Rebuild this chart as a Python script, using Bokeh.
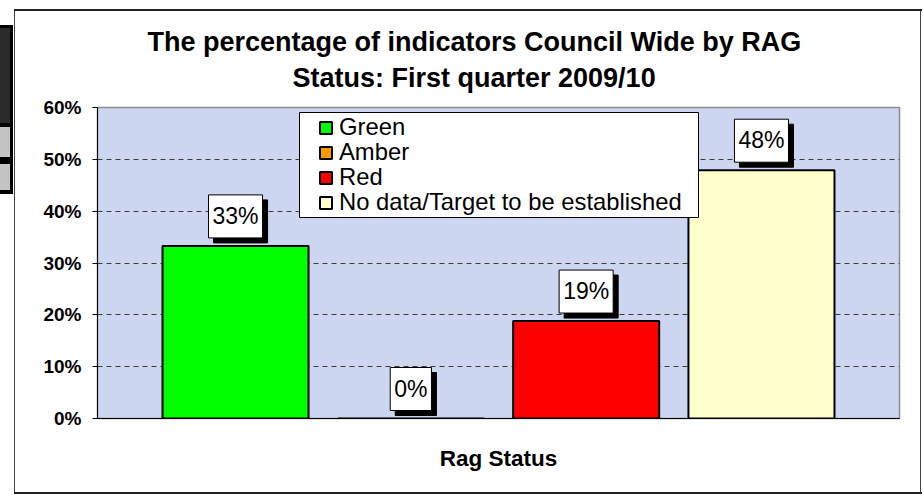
from bokeh.plotting import figure
from bokeh.models import (ColumnDataSource, FactorRange, Range1d, Label, Legend, Title,
                          LegendItem, BoxAnnotation, FixedTicker, PrintfTickFormatter)
from bokeh.embed import file_html
from bokeh.resources import INLINE

# ---- data ----
title_lines = ["The percentage of indicators Council Wide by RAG",
               "Status:  First quarter 2009/10"]
statuses = ["Green", "Amber", "Red", "No data/Target to be established"]
percentages = [33.3, 0.0, 18.8, 47.9]
label_texts = ["33%", "0%", "19%", "48%"]
bar_colors = ["#00ff00", "#ff9900", "#ff0000", "#ffffcc"]
y_ticks = [0, 10, 20, 30, 40, 50, 60]
grid_ticks = [10, 20, 30, 40, 50]
x_axis_title = "Rag Status"

FONT = "Liberation Sans"

src = ColumnDataSource(dict(status=statuses, pct=percentages, label=label_texts,
                            color=bar_colors))

p = figure(width=923, height=495, title=None,
           x_range=FactorRange(factors=statuses, range_padding=0.1437, range_padding_units="percent"),
           y_range=Range1d(0, 60),
           output_backend="svg", toolbar_location=None,
           min_border_left=97, min_border_right=24, min_border_top=107, min_border_bottom=77)

# outer chart border and the cropped side panel, drawn as the canvas's page background
bg_layers = [
    "linear-gradient(#c4c4c4,#c4c4c4) 0px 127px / 10px 30px no-repeat",
    "linear-gradient(#c4c4c4,#c4c4c4) 0px 164px / 10px 26px no-repeat",
    "linear-gradient(#2b2b2b,#2b2b2b) 0px 28px / 10px 95px no-repeat",
    "linear-gradient(#000,#000) 0px 25px / 13px 169px no-repeat",
    "linear-gradient(#222,#222) 14px 9px / 908px 2px no-repeat",
    "linear-gradient(#222,#222) 14px 492px / 908px 2px no-repeat",
    "linear-gradient(#444,#444) 14px 9px / 1px 485px no-repeat",
    "linear-gradient(#444,#444) 920px 9px / 1px 485px no-repeat",
    "#ffffff",
]
p.styles = {"background": ", ".join(bg_layers)}

p.background_fill_color = "#ccd6f1"
p.border_fill_alpha = 0
p.outline_line_color = "#8c8c8c"
p.outline_line_width = 1.5

bars = p.vbar(x="status", top="pct", width=0.833, source=src,
              fill_color="color", line_color="black", line_width=2)

# axes
p.yaxis.ticker = FixedTicker(ticks=y_ticks)
p.yaxis.formatter = PrintfTickFormatter(format="%d%%")
p.yaxis.major_label_text_font = FONT
p.yaxis.major_label_text_font_style = "bold"
p.yaxis.major_label_text_font_size = "19px"
p.yaxis.major_label_text_color = "black"
p.yaxis.major_tick_out = 5
p.yaxis.major_tick_in = 0
p.yaxis.minor_tick_line_color = None
p.yaxis.axis_line_color = "black"
p.yaxis.major_tick_line_color = "black"
p.yaxis.major_label_standoff = 11

p.xaxis.ticker = FixedTicker(ticks=[])
p.xaxis.major_tick_line_color = None
p.xaxis.minor_tick_line_color = None
p.xaxis.axis_line_color = "black"
p.xaxis.axis_label = x_axis_title
p.xaxis.axis_label_text_font = FONT
p.xaxis.axis_label_text_font_style = "bold"
p.xaxis.axis_label_text_font_size = "22.5px"
p.xaxis.axis_label_text_color = "black"
p.xaxis.axis_label_standoff = 27

p.xgrid.visible = False
p.ygrid.ticker = FixedTicker(ticks=grid_ticks)
p.ygrid.grid_line_color = "#3a3a3a"
p.ygrid.grid_line_dash = "5 4"
p.ygrid.grid_line_width = 1

# data labels with shadow (x in the factor range's synthetic coordinates: centre of factor i)
for i, (pc, lab) in enumerate(zip(percentages, label_texts)):
    for dx, dy, bg in [(5, 3, "black"), (0, 8, "white")]:
        p.add_layout(Label(x=i + 0.5, y=pc, text=lab, x_offset=dx, y_offset=dy,
                           text_align="center", text_baseline="bottom",
                           text_font=FONT, text_font_size="23px", text_color="black",
                           background_fill_color=bg, border_line_color="black",
                           border_line_width=1,
                           padding=dict(left=4, right=4, top=8, bottom=9)))

# legend box, then one single-row legend per series so rows sit 25px apart
legend_box = BoxAnnotation(left=202, right=601, bottom=201, top=306,
                           left_units="screen", right_units="screen",
                           bottom_units="screen", top_units="screen",
                           fill_color="white", fill_alpha=1.0,
                           line_color="black", line_width=1, line_alpha=1.0)
p.add_layout(legend_box)

row_pitch = 25
first_row_bottom = 277
for i, s in enumerate(statuses):
    lg = Legend(items=[LegendItem(label=s, renderers=[bars], index=i)],
                location=(221, first_row_bottom - i * row_pitch), padding=0, margin=0,
                glyph_width=15, glyph_height=15, label_standoff=6,
                label_text_font=FONT, label_text_font_size="23.8px",
                label_text_color="black",
                background_fill_alpha=0, border_line_color=None)
    p.add_layout(lg, "center")

# title (two lines); the one added later sits further from the plot
for text, off, stand in [(title_lines[1], 195, 29), (title_lines[0], 50, -21)]:
    p.add_layout(Title(text=text, align="left", offset=off, standoff=stand,
                       text_font=FONT, text_font_size="27px", text_font_style="bold",
                       text_color="black"), "above")

open("out.html", "w").write(file_html(p, INLINE))
